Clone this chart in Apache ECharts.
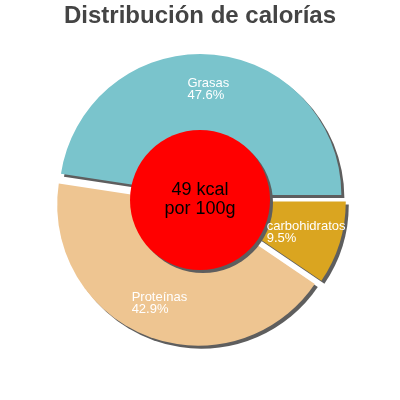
<!DOCTYPE html>
<html>
<head>
<meta charset="utf-8">
<script src="https://cdn.jsdelivr.net/npm/echarts@6/dist/echarts.min.js"></script>
<style>
html,body{margin:0;padding:0;background:#fff;}
#chart{width:400px;height:400px;}
</style>
</head>
<body>
<div id="chart"></div>
<script>
var titleText = 'Distribución de calorías';
var categories = ['Grasas', 'Proteínas', 'carbohidratos'];
var values = [47.6, 42.9, 9.5];
var colors = ['#7AC4CC', '#EEC591', '#DAA520'];
var centerLines = ['49 kcal', 'por 100g'];

var font = 'Liberation Sans, Arial, sans-serif';
var shadow = {shadowColor: '#5e5e5e', shadowBlur: 0, shadowOffsetX: 3, shadowOffsetY: 3};

var sliceData = categories.map(function (c, i) {
  return {name: c, value: values[i], selected: true,
    itemStyle: Object.assign({color: colors[i]}, shadow)};
});
var labelData = categories.map(function (c, i) {
  return {name: c, value: values[i], selected: true};
});

var chart = echarts.init(document.getElementById('chart'), null, {renderer: 'canvas'});
chart.setOption({
  animation: false,
  title: {
    text: titleText, left: 'center', top: 4, padding: 0,
    textStyle: {fontFamily: font, fontSize: 24, fontWeight: 'bold', color: '#444'}
  },
  series: [
    {
      type: 'pie', radius: [0, 141], center: [200, 200],
      startAngle: 0, clockwise: false,
      selectedMode: 'multiple', selectedOffset: 5,
      avoidLabelOverlap: false, silent: true,
      label: {show: false}, labelLine: {show: false},
      emphasis: {disabled: true},
      data: sliceData
    },
    {
      type: 'pie', radius: [66, 140], center: [200, 200],
      startAngle: 0, clockwise: false,
      selectedMode: 'multiple', selectedOffset: 5,
      avoidLabelOverlap: false, silent: true,
      itemStyle: {color: 'rgba(0,0,0,0)'},
      labelLine: {show: false},
      emphasis: {disabled: true},
      label: {
        show: true, position: 'inside',
        formatter: function (p) { return '{a|' + p.name + '}\n{a|' + p.value + '%}'; },
        rich: {a: {align: 'left', color: '#fff', fontSize: 13, lineHeight: 12, fontFamily: font}}
      },
      data: labelData
    },
    {
      type: 'pie', radius: [0, 70], center: [200, 200],
      silent: true, emphasis: {disabled: true},
      labelLine: {show: false},
      itemStyle: Object.assign({color: '#FF0000'}, shadow),
      label: {
        show: true, position: 'center',
        formatter: centerLines.join('\n'),
        fontFamily: font, fontSize: 18, lineHeight: 19, color: '#000'
      },
      data: [{name: 'kcal', value: 1}]
    }
  ]
});
</script>
</body>
</html>
